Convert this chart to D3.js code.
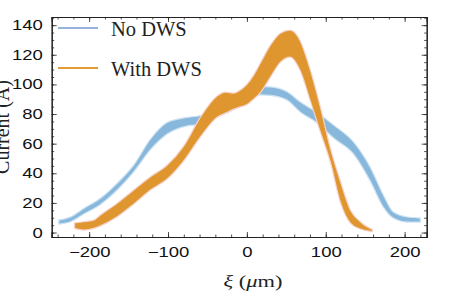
<!DOCTYPE html>
<html>
<head>
<meta charset="utf-8">
<script src="https://cdnjs.cloudflare.com/ajax/libs/d3/7.8.5/d3.min.js"></script>
<style>
  body { margin: 0; background: #fff; }
  svg { display: block; }
</style>
</head>
<body>
<script>
// values
var blueXi = [-238.5, -223.7, -206.8, -185.7, -164.5, -143.5, -122.3, -101.1, -75.4, -58.9, -37.8, -16.7, 0.3, 17.1, 29.8, 51, 67.8, 89, 110, 135.4, 156.5, 173, 185.7, 203.4, 220];
var blueLo = [5.7, 7.3, 12.5, 19.0, 28.7, 41.0, 56, 66.5, 72, 73, 78, 83, 88, 93, 92.6, 89.4, 81.3, 74, 63.8, 53, 34.7, 17.2, 9.8, 7.1, 7.1];
var blueHi = [8.4, 10.5, 16.3, 23.1, 33.2, 45.5, 63, 74.3, 77.7, 79, 84, 89, 94, 98.5, 98.3, 95, 88.1, 81, 72.5, 61, 43.9, 25.3, 13.8, 10.5, 9.8];

var orangeXi = [-218.6, -206.8, -194.2, -185.7, -164.5, -143.5, -122.3, -101.1, -80.1, -58.9, -37.8, -27.2, -16.7, -8.2, 0.3, 8.6, 17.1, 29.8, 42.5, 55.1, 67.8, 80.5, 93.2, 105.8, 118.5, 131.2, 143.9, 159.1];
var orangeLo = [2.8, 1.7, 2.8, 4.5, 10.7, 19.2, 28.7, 36.1, 48.4, 64.6, 77.9, 80.6, 83.3, 84.8, 86.4, 90.1, 94.5, 104.9, 115.0, 118.4, 109.0, 88.7, 67.8, 47.6, 20.5, 6.4, 2.4, 0.7];
var orangeHi = [6.6, 7.3, 8.4, 11.8, 19.7, 28.7, 37.7, 45.5, 58.4, 77.9, 92.1, 94.8, 94.1, 96.2, 100.2, 106.3, 114.4, 126.5, 134.6, 136.6, 129.2, 109.6, 84.7, 57.0, 34.8, 15.2, 7.3, 2.0];

var xMajor = [-200, -100, 0, 100, 200];
var yMajor = [0, 20, 40, 60, 80, 100, 120, 140];
var seriesNames = ["No DWS", "With DWS"];

var svgWidth = 461, svgHeight = 303;
var margin = { top: 17, bottom: 66, left: 51.7, right: 34.3 };
var width = svgWidth - margin.left - margin.right;
var height = svgHeight - margin.top - margin.bottom;

var svg = d3.select("body").append("svg")
  .attr("width", svgWidth)
  .attr("height", svgHeight);

var chart = svg.append("g")
  .attr("transform", `translate(${margin.left}, ${margin.top})`);

var x = d3.scaleLinear().domain([-247.5, 228]).range([0, width]);
var y = d3.scaleLinear().domain([-3, 145.5]).range([height, 0]);

function zipBand(xs, lo, hi) {
  return xs.map(function(v, i) { return { xi: v, lo: lo[i], hi: hi[i] }; });
}

var band = d3.area()
  .curve(d3.curveMonotoneX)
  .x(d => x(d.xi))
  .y0(d => y(d.lo))
  .y1(d => y(d.hi));

// blue band first, orange drawn over it
chart.append("path")
  .datum(zipBand(blueXi, blueLo, blueHi))
  .attr("d", band)
  .attr("fill", "#87b8dc")
  .attr("stroke", "#cde2f2")
  .attr("stroke-width", 1.2);

chart.append("path")
  .datum(zipBand(orangeXi, orangeLo, orangeHi))
  .attr("d", band)
  .attr("fill", "#e0962e")
  .attr("stroke", "#f7d2ca")
  .attr("stroke-width", 1.2);

// frame with inward ticks on all sides
var xMinor = d3.range(-240, 229, 20);
var yMinor = d3.range(0, 146, 5);

function styleAxis(g) {
  g.select(".domain").attr("stroke", "#222").attr("stroke-width", 1.1);
  g.selectAll(".tick line").attr("stroke", "#222").attr("stroke-width", 0.8);
}

var sx = 1.32;

chart.append("g")
  .attr("transform", `translate(0, ${height})`)
  .call(d3.axisBottom(x).tickValues(xMinor).tickSize(-2.5).tickFormat(""))
  .call(styleAxis);
var bottom = chart.append("g")
  .attr("transform", `translate(0, ${height})`)
  .call(d3.axisBottom(x).tickValues(xMajor).tickSize(-5).tickPadding(10.5)
    .tickFormat(d => d < 0 ? "\u2212" + Math.abs(d) : d))
  .call(styleAxis);

chart.append("g")
  .call(d3.axisTop(x).tickValues(xMinor).tickSize(-2.5).tickFormat(""))
  .call(styleAxis);
chart.append("g")
  .call(d3.axisTop(x).tickValues(xMajor).tickSize(-5).tickFormat(""))
  .call(styleAxis);

chart.append("g")
  .call(d3.axisLeft(y).tickValues(yMinor).tickSize(-2.5).tickFormat(""))
  .call(styleAxis);
var left = chart.append("g")
  .call(d3.axisLeft(y).tickValues(yMajor).tickSize(-5).tickPadding(9))
  .call(styleAxis);

chart.append("g")
  .attr("transform", `translate(${width}, 0)`)
  .call(d3.axisRight(y).tickValues(yMinor).tickSize(-2.5).tickFormat(""))
  .call(styleAxis);
chart.append("g")
  .attr("transform", `translate(${width}, 0)`)
  .call(d3.axisRight(y).tickValues(yMajor).tickSize(-5).tickFormat(""))
  .call(styleAxis);

// tick labels are stretched sideways in the picture
bottom.selectAll(".tick text")
  .attr("font-family", "'Liberation Sans', Arial, sans-serif")
  .attr("font-size", "14px")
  .attr("fill", "#111")
  .attr("transform", `scale(${sx},1)`);
left.selectAll(".tick text")
  .attr("font-family", "'Liberation Sans', Arial, sans-serif")
  .attr("font-size", "14px")
  .attr("fill", "#111")
  .attr("x", -9 / sx)
  .attr("transform", `scale(${sx},1)`);

// axis titles
var xTitle = svg.append("text")
  .attr("transform", `translate(253, 287) scale(${sx},1)`)
  .attr("text-anchor", "middle")
  .attr("font-family", "'Liberation Serif', 'Times New Roman', serif")
  .attr("font-size", "17px")
  .attr("fill", "#222");
xTitle.append("tspan").attr("font-style", "italic").text("\u03be");
xTitle.append("tspan").text(" (");
xTitle.append("tspan").attr("font-style", "italic").text("\u03bc");
xTitle.append("tspan").text("m)");

svg.append("text")
  .attr("transform", "translate(9, 127) rotate(-90)")
  .attr("text-anchor", "middle")
  .attr("font-family", "'Liberation Serif', 'Times New Roman', serif")
  .attr("font-size", "20px")
  .attr("fill", "#222")
  .text("Current (A)");

// legend
var legendColors = ["#7398d0", "#e59a38"];
var legend = svg.append("g");
seriesNames.forEach(function(name, i) {
  var ly = 28 + i * 40;
  legend.append("line")
    .attr("x1", 58).attr("x2", 98)
    .attr("y1", ly).attr("y2", ly)
    .attr("stroke", legendColors[i])
    .attr("stroke-width", i === 0 ? 1.5 : 2);
  legend.append("text")
    .attr("x", 111).attr("y", ly + 7.5)
    .attr("font-family", "'Liberation Serif', 'Times New Roman', serif")
    .attr("font-size", "20.5px")
    .attr("fill", "#222")
    .text(name);
});
</script>
</body>
</html>
